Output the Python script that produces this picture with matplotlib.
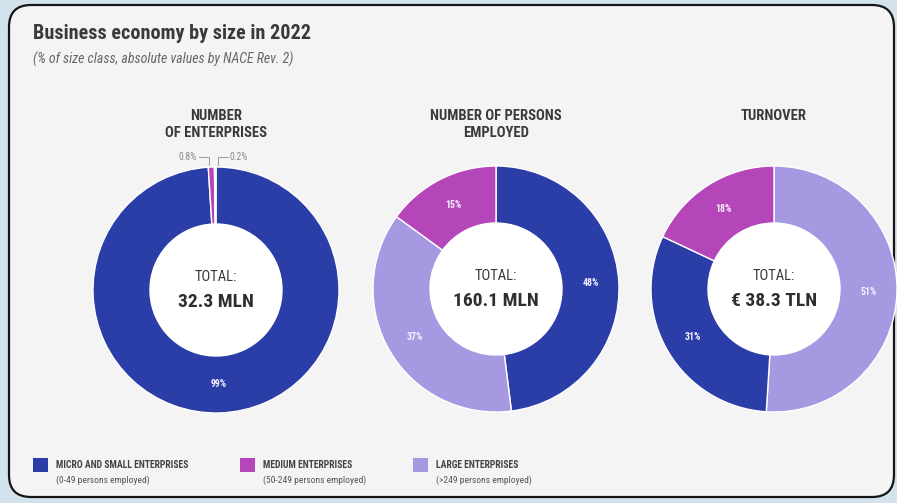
import matplotlib
matplotlib.use("Agg")
import matplotlib.pyplot as plt
from matplotlib.patches import FancyBboxPatch, Circle, Rectangle
import numpy as np

# narrow faces first, whichever is installed gets used
plt.rcParams['font.family'] = ['DejaVu Sans Condensed', 'Liberation Sans Narrow',
                               'Roboto Condensed', 'Open Sans Condensed', 'Liberation Sans']

# ---- data -------------------------------------------------------------
size_classes = ["MICRO AND SMALL ENTERPRISES", "MEDIUM ENTERPRISES", "LARGE ENTERPRISES"]
size_notes = ["(0-49 persons employed)", "(50-249 persons employed)", "(>249 persons employed)"]
class_colors = {"micro": "#2b3ea8", "medium": "#b546b9", "large": "#a699e2"}

chart_titles = ["NUMBER\nOF ENTERPRISES", "NUMBER OF PERSONS\nEMPLOYED", "TURNOVER"]
chart_totals = ["32.3 MLN", "160.1 MLN", "\u20ac 38.3 TLN"]

# shares (%) in clockwise order from 12 o'clock
enterprises_keys = ["micro", "medium", "large"]
enterprises_vals = [99, 0.8, 0.2]
persons_keys = ["micro", "large", "medium"]
persons_vals = [48, 37, 15]
turnover_keys = ["large", "micro", "medium"]
turnover_vals = [51, 31, 18]

# ---- layout (pixel coords, y measured from top) -----------------------
W, H = 897, 503
def Y(py):
    return H - py

fig = plt.figure(figsize=(W / 100, H / 100), dpi=100)
fig.patch.set_facecolor("#d2e3ed")
ax = fig.add_axes([0, 0, 1, 1])

card = FancyBboxPatch((9, Y(497)), 885, 492, boxstyle="round,pad=0,rounding_size=22",
                      facecolor="#f4f4f4", edgecolor="#151515", lw=1.6, zorder=0)
ax.add_patch(card)

ax.text(33, Y(33), "Business economy by size in 2022", fontsize=14.5, fontweight="bold",
        color="#3a3a3a", va="center", ha="left")
ax.text(33, Y(59), "(% of size class, absolute values by NACE Rev. 2)", fontsize=10,
        style="italic", color="#666666", va="center", ha="left")

centers = [(216, 290), (496, 289), (774, 289)]
R_out, R_in = 123, 66
series = [(enterprises_keys, enterprises_vals), (persons_keys, persons_vals),
          (turnover_keys, turnover_vals)]

for (cx, cy), title, total, (keys, vals) in zip(centers, chart_titles, chart_totals, series):
    wedges, _, pct_texts = ax.pie(
        vals, colors=[class_colors[k] for k in keys], radius=R_out, center=(cx, Y(cy)),
        startangle=90, counterclock=False,
        wedgeprops=dict(width=R_out - R_in, edgecolor="white", linewidth=1.0),
        autopct=lambda p: f"{p:.0f}%" if p >= 5 else "",
        pctdistance=(R_out + R_in) / 2 / R_out,
        textprops=dict(color="#f4f0ff", fontsize=7, fontweight="bold"))
    ax.add_patch(Circle((cx, Y(cy)), R_in, facecolor="white", edgecolor="none", zorder=3))
    ax.text(cx, Y(cy - 13), "TOTAL:", fontsize=10.5, color="#3a3a3a", ha="center", va="center", zorder=4)
    ax.text(cx, Y(cy + 12), total, fontsize=14, fontweight="bold", color="#2e2e2e",
            ha="center", va="center", zorder=4)
    ax.text(cx, Y(109), title, fontsize=10.5, fontweight="bold", color="#3a3a3a",
            ha="center", va="top", linespacing=1.25)

    # small slices get their labels outside with a leader line
    small = [(w, v) for w, v in zip(wedges, vals) if v < 5]
    for i, (w, v) in enumerate(small):
        mid = np.deg2rad((w.theta1 + w.theta2) / 2)
        x0 = cx + R_out * np.cos(mid)
        side = -1 if i == 0 else 1
        xs = x0 + side * 2.5
        ax.plot([xs, xs, xs + side * 10], [Y(cy) + R_out + 2, Y(157), Y(157)],
                color="#9a9a9a", lw=0.7, zorder=2)
        ax.text(xs + side * 12, Y(157), f"{v:g}%", fontsize=7, color="#8a8a8a",
                ha="right" if side < 0 else "left", va="center")

# legend
legend_x = [33, 240, 413]
for lx, key, name, note in zip(legend_x, ["micro", "medium", "large"], size_classes, size_notes):
    ax.add_patch(Rectangle((lx, Y(472)), 15, 14, facecolor=class_colors[key], edgecolor="none"))
    ax.text(lx + 23, Y(465), name, fontsize=7, fontweight="bold", color="#444444",
            ha="left", va="center")
    ax.text(lx + 23, Y(480), note, fontsize=6.8, color="#555555", ha="left", va="center")

ax.set_xlim(0, W)
ax.set_ylim(0, H)
ax.set_aspect("auto")
ax.axis("off")

fig.savefig("out.png", dpi=100, facecolor=fig.get_facecolor())
